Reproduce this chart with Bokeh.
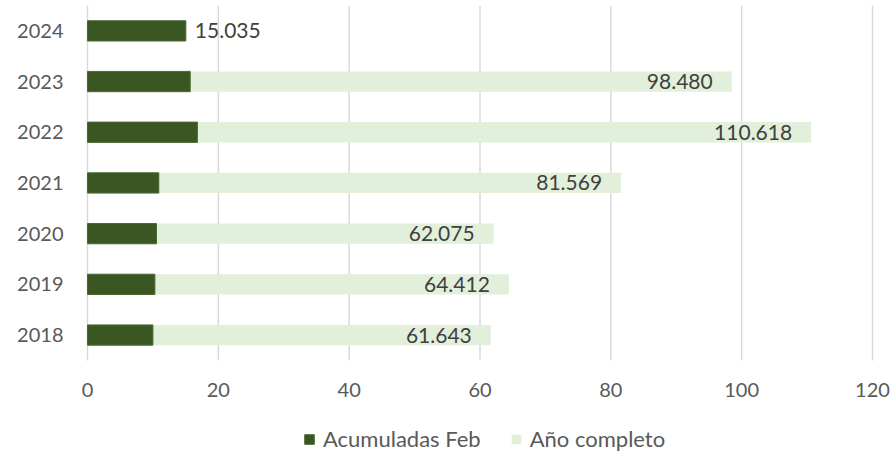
from bokeh.plotting import figure
from bokeh.models import ColumnDataSource, Range1d, FixedTicker, Legend, LegendItem
from bokeh.core.properties import value
from bokeh.embed import file_html
from bokeh.resources import INLINE
import math

years = [2018, 2019, 2020, 2021, 2022, 2023, 2024]
acumuladas_feb = [10.0, 10.3, 10.55, 10.9, 16.8, 15.7, 15.035]
ano_completo = [61.643, 64.412, 62.075, 81.569, 110.618, 98.480, float("nan")]
x_ticks = [0, 20, 40, 60, 80, 100, 120]

DARK = "#3a5623"
LIGHT = "#e2efda"
FONT = "Lato"

W, H = 892, 452
TOP = 5
LEFT = 63              # frame left edge (px)
AX0, AX1 = 87, 872     # pixel positions of x = 0 and x = 120
CAT_PX = 50.7          # pixels per category row

def fmt(v):
    return f"{v:.3f}"

px_per_unit = (AX1 - AX0) / (x_ticks[-1] - x_ticks[0])
x_start = x_ticks[0] - (AX0 - LEFT) / px_per_unit
x_end = x_ticks[-1] + (W - AX1) / px_per_unit

y_lo = years[0] - 0.5
y_hi = years[-1] + 0.5
y_start = y_hi - (H - TOP) / CAT_PX

p = figure(width=W, height=H, output_backend="svg", toolbar_location=None,
           x_range=Range1d(x_start, x_end), y_range=Range1d(y_start, y_hi),
           min_border_left=LEFT, min_border_right=0, min_border_top=TOP, min_border_bottom=0)
p.outline_line_color = None
p.background_fill_color = "white"
p.border_fill_color = "white"

# vertical gridlines limited to the category area
grid_src = ColumnDataSource(dict(x=x_ticks, y0=[y_lo] * len(x_ticks), y1=[y_hi] * len(x_ticks)))
p.segment(x0="x", y0="y0", x1="x", y1="y1", source=grid_src, line_color="#d9d9d9", line_width=1.5)

full_src = ColumnDataSource(dict(y=[y for y, v in zip(years, ano_completo) if not math.isnan(v)],
                                 right=[v for v in ano_completo if not math.isnan(v)]))
full_src.data["label"] = [fmt(v) for v in full_src.data["right"]]
feb_src = ColumnDataSource(dict(y=years, right=acumuladas_feb))

r_full = p.hbar(y="y", right="right", left=0, height=0.4, source=full_src,
                fill_color=LIGHT, line_color=None)
r_feb = p.hbar(y="y", right="right", left=0, height=0.4, source=feb_src,
               fill_color=DARK, line_color="#4a6a33", line_width=1)

p.text(x="right", y="y", text="label", source=full_src, x_offset=-19,
       text_align="right", text_baseline="middle", text_font=value(FONT),
       text_font_size="21px", text_color="#404040")

# label for the year with no full-year value
partial_src = ColumnDataSource(dict(
    y=[y for y, v in zip(years, ano_completo) if math.isnan(v)],
    x=[a for a, v in zip(acumuladas_feb, ano_completo) if math.isnan(v)]))
partial_src.data["label"] = [fmt(v) for v in partial_src.data["x"]]
p.text(x="x", y="y", text="label", source=partial_src, x_offset=9,
       text_align="left", text_baseline="middle", text_font=value(FONT),
       text_font_size="21px", text_color="#404040")

p.xaxis.ticker = FixedTicker(ticks=x_ticks)
p.yaxis.ticker = FixedTicker(ticks=years)
p.xaxis.fixed_location = y_lo
for ax in (p.xaxis[0], p.yaxis[0]):
    ax.axis_line_color = None
    ax.major_tick_line_color = None
    ax.minor_tick_line_color = None
    ax.major_tick_out = 0
    ax.major_tick_in = 0
    ax.minor_tick_out = 0
    ax.minor_tick_in = 0
    ax.major_label_text_font = FONT
    ax.major_label_text_font_size = "20px"
    ax.major_label_text_color = "#595959"
p.xaxis.major_label_standoff = 23
p.yaxis.major_label_standoff = 0

p.xgrid.grid_line_color = None
p.ygrid.grid_line_color = None

legend = Legend(items=[LegendItem(label="Acumuladas Feb", renderers=[r_feb]),
                       LegendItem(label="Año completo", renderers=[r_full])],
                orientation="horizontal", location=(303 - LEFT, 0),
                glyph_width=12, glyph_height=12, label_standoff=8, spacing=29,
                padding=0, margin=0, border_line_color=None, background_fill_alpha=0,
                label_text_font=FONT, label_text_font_size="22px", label_text_color="#595959")
p.add_layout(legend, "center")

open("out.html", "w").write(file_html(p, INLINE))
